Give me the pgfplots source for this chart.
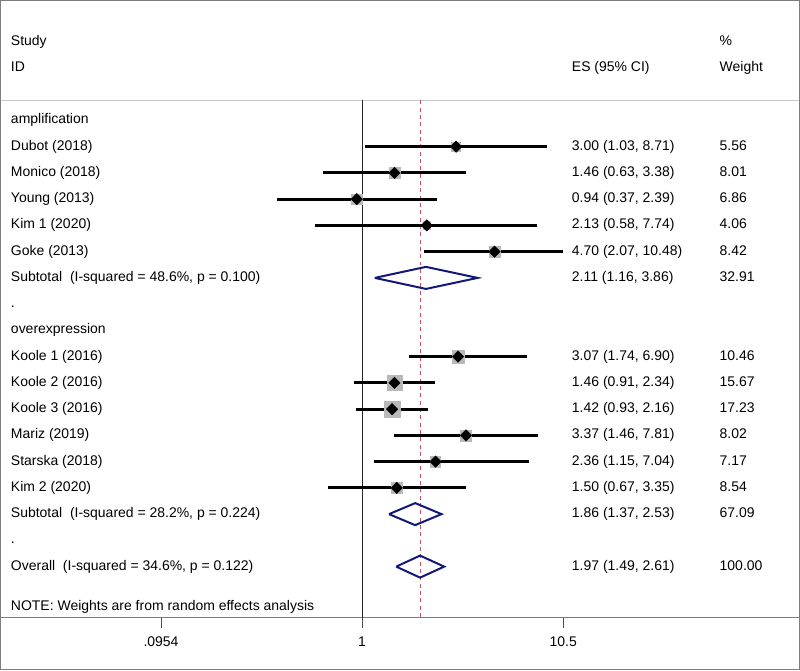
\documentclass[border=0pt]{standalone}
\usepackage{fontspec}
\setmainfont{Liberation Sans}
\usepackage{pgfplots}
\usepackage{pgfplotstable}
\pgfplotsset{compat=1.18}
\definecolor{framegray}{RGB}{125,125,125}
\definecolor{headgray}{RGB}{200,200,200}
\definecolor{boxgray}{RGB}{185,185,185}
\definecolor{navyd}{RGB}{18,24,118}
\definecolor{refred}{RGB}{195,80,100}

% row = line number in the plot (counted downwards), es, lower, upper CI, weight
\pgfplotstableread{
row es lo hi w
1 3.00 1.03 8.71 5.56
2 1.46 0.63 3.38 8.01
3 0.94 0.37 2.39 6.86
4 2.13 0.58 7.74 4.06
5 4.70 2.07 10.48 8.42
}\ampl
\pgfplotstableread{
row es lo hi w
9 3.07 1.74 6.90 10.46
10 1.46 0.91 2.34 15.67
11 1.42 0.93 2.16 17.23
12 3.37 1.46 7.81 8.02
13 2.36 1.15 7.04 7.17
14 1.50 0.67 3.35 8.54
}\overexp
\pgfplotstableread{
row es lo hi w
6 2.11 1.16 3.86 32.91
15 1.86 1.37 2.53 67.09
17 1.97 1.49 2.61 100.00
}\pooled

\newcommand{\drawci}[2]{%
  \pgfplotstablegetelem{#2}{row}\of#1\let\ciR\pgfplotsretval
  \pgfplotstablegetelem{#2}{lo}\of#1\let\ciL\pgfplotsretval
  \pgfplotstablegetelem{#2}{hi}\of#1\let\ciH\pgfplotsretval
  \edef\tmp{\noexpand\addplot[ciline] coordinates {(\ciL,-\ciR) (\ciH,-\ciR)};}\tmp}
\newcommand{\drawdiam}[2]{%
  \pgfplotstablegetelem{#2}{row}\of#1\let\ciR\pgfplotsretval
  \pgfplotstablegetelem{#2}{es}\of#1\let\ciE\pgfplotsretval
  \pgfplotstablegetelem{#2}{lo}\of#1\let\ciL\pgfplotsretval
  \pgfplotstablegetelem{#2}{hi}\of#1\let\ciH\pgfplotsretval
  \pgfmathsetmacro\ciY{-\ciR}%
  \pgfmathsetmacro\ciT{-\ciR+0.42}%
  \pgfmathsetmacro\ciB{-\ciR-0.42}%
  \edef\tmp{\noexpand\addplot[diam] coordinates {(\ciL,\ciY) (\ciE,\ciT) (\ciH,\ciY) (\ciE,\ciB) (\ciL,\ciY)};}\tmp}

\begin{document}
\begin{tikzpicture}[
  lab/.style={anchor=mid west, inner sep=0pt, font=\fontsize{10.5}{12}\selectfont},
  tl/.style={anchor=mid, inner sep=0pt, font=\fontsize{10.5}{12}\selectfont},
]
\begin{axis}[
  scale only axis, width=600pt, height=502.5pt,
  xmode=log, xmin=0.014659, xmax=165.5,
  ymin=-20.92, ymax=4.56,
  xtick=\empty, ytick=\empty,
  axis line style={framegray, line width=1.1pt},
  clip=false,
  ciline/.style={black, line width=2.2pt, forget plot},
  diam/.style={navyd, line width=1.5pt, line join=miter, forget plot},
]
% separator lines
\draw[headgray, line width=1pt] (axis cs:0.014659,0.76) -- (axis cs:165.5,0.76);
\draw[framegray, line width=1.1pt] (axis cs:0.014659,-18.94) -- (axis cs:165.5,-18.94);
% null line and overall line
\addplot[black!85, line width=0.75pt] coordinates {(1,0.76) (1,-18.94)};
\addplot[refred, line width=0.7pt, dash pattern=on 3pt off 2.5pt] coordinates {(1.97,0.76) (1.97,-18.94)};
% CI lines
\pgfplotsinvokeforeach{0,...,4}{\drawci{\ampl}{#1}}
\pgfplotsinvokeforeach{0,...,5}{\drawci{\overexp}{#1}}
% weight boxes
\addplot[scatter, only marks, mark=square*,
  scatter/use mapped color={draw=boxgray, fill=boxgray},
  visualization depends on={1.45*sqrt(\thisrow{w}) \as \msz},
  scatter/@pre marker code/.append style={/tikz/mark size=\msz pt}]
  table[x=es, y expr=-\thisrow{row}] {\ampl};
\addplot[scatter, only marks, mark=square*,
  scatter/use mapped color={draw=boxgray, fill=boxgray},
  visualization depends on={1.45*sqrt(\thisrow{w}) \as \msz},
  scatter/@pre marker code/.append style={/tikz/mark size=\msz pt}]
  table[x=es, y expr=-\thisrow{row}] {\overexp};
% point estimates
\addplot[only marks, mark=square*, mark size=3pt, mark options={rotate=45, fill=black, draw=black}]
  table[x=es, y expr=-\thisrow{row}] {\ampl};
\addplot[only marks, mark=square*, mark size=3pt, mark options={rotate=45, fill=black, draw=black}]
  table[x=es, y expr=-\thisrow{row}] {\overexp};
% pooled diamonds
\pgfplotsinvokeforeach{0,...,2}{\drawdiam{\pooled}{#1}}
% x ticks
\draw[black!70, line width=0.6pt] (axis cs:0.0954,-18.94) -- (axis cs:0.0954,-19.32);
\draw[black!70, line width=0.6pt] (axis cs:1,-18.94) -- (axis cs:1,-19.32);
\draw[black!70, line width=0.6pt] (axis cs:10.5,-18.94) -- (axis cs:10.5,-19.32);
\node[tl] at (axis cs:0.0954,-19.9) {.0954};
\node[tl] at (axis cs:1,-19.9) {1};
\node[tl] at (axis cs:10.5,-19.9) {10.5};
% header
\node[lab] at (axis cs:0.016474,3) {Study};
\node[lab] at (axis cs:0.016474,2) {ID};
\node[lab] at (axis cs:11.58,2) {ES (95\% CI)};
\node[lab] at (axis cs:65.11,3) {\%};
\node[lab] at (axis cs:65.11,2) {Weight};
% left column
\node[lab] at (axis cs:0.016474,0) {amplification};
\node[lab] at (axis cs:0.016474,-1) {Dubot (2018)};
\node[lab] at (axis cs:0.016474,-2) {Monico (2018)};
\node[lab] at (axis cs:0.016474,-3) {Young (2013)};
\node[lab] at (axis cs:0.016474,-4) {Kim 1 (2020)};
\node[lab] at (axis cs:0.016474,-5) {Goke (2013)};
\node[lab] at (axis cs:0.016474,-6) {Subtotal\ \ (I-squared = 48.6\%, p = 0.100)};
\node[lab] at (axis cs:0.016474,-7) {.};
\node[lab] at (axis cs:0.016474,-8) {overexpression};
\node[lab] at (axis cs:0.016474,-9) {Koole 1 (2016)};
\node[lab] at (axis cs:0.016474,-10) {Koole 2 (2016)};
\node[lab] at (axis cs:0.016474,-11) {Koole 3 (2016)};
\node[lab] at (axis cs:0.016474,-12) {Mariz (2019)};
\node[lab] at (axis cs:0.016474,-13) {Starska (2018)};
\node[lab] at (axis cs:0.016474,-14) {Kim 2 (2020)};
\node[lab] at (axis cs:0.016474,-15) {Subtotal\ \ (I-squared = 28.2\%, p = 0.224)};
\node[lab] at (axis cs:0.016474,-16) {.};
\node[lab] at (axis cs:0.016474,-17) {Overall\ \ (I-squared = 34.6\%, p = 0.122)};
\node[lab] at (axis cs:0.016474,-18.52) {NOTE: Weights are from random effects analysis};
% ES column
\node[lab] at (axis cs:11.58,-1) {3.00 (1.03, 8.71)};
\node[lab] at (axis cs:11.58,-2) {1.46 (0.63, 3.38)};
\node[lab] at (axis cs:11.58,-3) {0.94 (0.37, 2.39)};
\node[lab] at (axis cs:11.58,-4) {2.13 (0.58, 7.74)};
\node[lab] at (axis cs:11.58,-5) {4.70 (2.07, 10.48)};
\node[lab] at (axis cs:11.58,-6) {2.11 (1.16, 3.86)};
\node[lab] at (axis cs:11.58,-9) {3.07 (1.74, 6.90)};
\node[lab] at (axis cs:11.58,-10) {1.46 (0.91, 2.34)};
\node[lab] at (axis cs:11.58,-11) {1.42 (0.93, 2.16)};
\node[lab] at (axis cs:11.58,-12) {3.37 (1.46, 7.81)};
\node[lab] at (axis cs:11.58,-13) {2.36 (1.15, 7.04)};
\node[lab] at (axis cs:11.58,-14) {1.50 (0.67, 3.35)};
\node[lab] at (axis cs:11.58,-15) {1.86 (1.37, 2.53)};
\node[lab] at (axis cs:11.58,-17) {1.97 (1.49, 2.61)};
% weight column
\node[lab] at (axis cs:65.11,-1) {5.56};
\node[lab] at (axis cs:65.11,-2) {8.01};
\node[lab] at (axis cs:65.11,-3) {6.86};
\node[lab] at (axis cs:65.11,-4) {4.06};
\node[lab] at (axis cs:65.11,-5) {8.42};
\node[lab] at (axis cs:65.11,-6) {32.91};
\node[lab] at (axis cs:65.11,-9) {10.46};
\node[lab] at (axis cs:65.11,-10) {15.67};
\node[lab] at (axis cs:65.11,-11) {17.23};
\node[lab] at (axis cs:65.11,-12) {8.02};
\node[lab] at (axis cs:65.11,-13) {7.17};
\node[lab] at (axis cs:65.11,-14) {8.54};
\node[lab] at (axis cs:65.11,-15) {67.09};
\node[lab] at (axis cs:65.11,-17) {100.00};
\end{axis}
\end{tikzpicture}
\end{document}
